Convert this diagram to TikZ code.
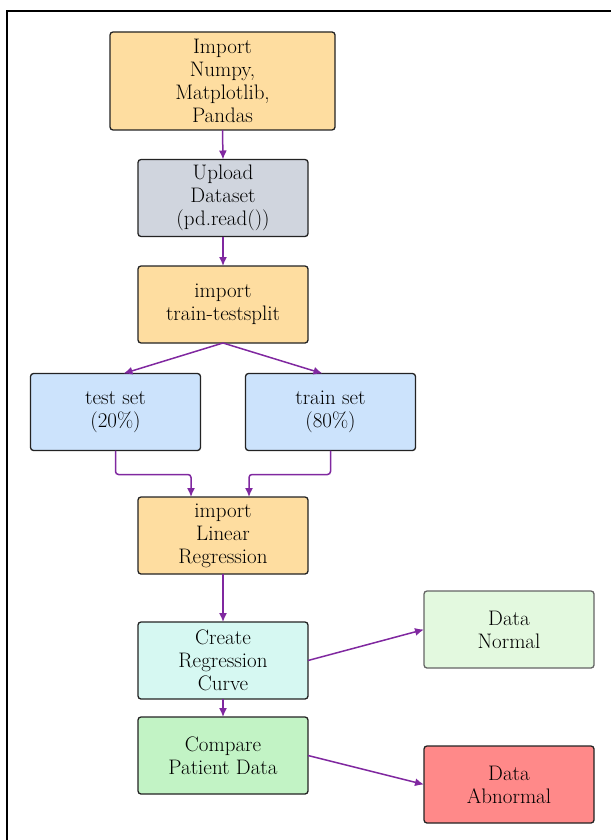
\documentclass[tikz,border=0pt]{standalone}
\usepackage{fontspec}
\usetikzlibrary{arrows.meta}
\definecolor{importorange}{RGB}{254,221,160}
\definecolor{uploadgray}{RGB}{208,213,222}
\definecolor{setblue}{RGB}{204,227,252}
\definecolor{curvecyan}{RGB}{214,248,242}
\definecolor{normalgreen}{RGB}{227,249,223}
\definecolor{comparegreen}{RGB}{194,243,197}
\definecolor{abnormalred}{RGB}{255,137,137}
\definecolor{flowpurple}{RGB}{128,40,160}
\definecolor{boxline}{RGB}{35,35,35}

\begin{document}
\begin{tikzpicture}[x=1pt, y=-1pt,
    box/.style={draw=boxline, line width=1.3pt, rounded corners=3pt, align=center,
        minimum width=170pt, minimum height=77pt, inner sep=0pt, outer sep=0pt,
        font=\fontsize{21}{23}\selectfont},
    flow/.style={draw=flowpurple, line width=1.5pt, -{Latex[length=9pt,width=8pt]}}]
    \useasboundingbox (0,0) rectangle (611,840);
    \draw[line width=1.6pt] (7,840) -- (7,11) -- (611,11);

    \node[box, fill=importorange, minimum width=225pt, minimum height=98pt] (imp) at (222.5,81)
        {Import\\ Numpy,\\ Matplotlib,\\ Pandas};
    \node[box, fill=uploadgray] (upl) at (223,198) {Upload\\ Dataset\\ (pd.read())};
    \node[box, fill=importorange] (tts) at (223,304.5) {import\\ train-testsplit};
    \node[box, fill=setblue] (test) at (115.5,412) {test set\\ (20\%)};
    \node[box, fill=setblue] (train) at (330.5,412) {train set\\ (80\%)};
    \node[box, fill=importorange] (lin) at (223,535.5) {import\\ Linear\\ Regression};
    \node[box, fill=curvecyan] (cre) at (223,660.5) {Create\\ Regression\\ Curve};
    \node[box, fill=normalgreen, draw=boxline!70] (nor) at (509,629.5) {Data\\ Normal};
    \node[box, fill=comparegreen] (cmp) at (223,755.5) {Compare\\ Patient Data};
    \node[box, fill=abnormalred] (abn) at (509,784.5) {Data\\ Abnormal};

    \draw[flow] (imp.south) -- (upl.north);
    \draw[flow] (upl.south) -- (tts.north);
    \draw[flow] (tts.south) -- ([xshift=8pt]test.north);
    \draw[flow] (tts.south) -- ([xshift=-8pt]train.north);
    \draw[flow, rounded corners=3pt] (test.south) -- ++(0,24) -| ([xshift=-32pt]lin.north);
    \draw[flow, rounded corners=3pt] (train.south) -- ++(0,24) -| ([xshift=26pt]lin.north);
    \draw[flow] (lin.south) -- (cre.north);
    \draw[flow] (cre.east) -- (nor.west);
    \draw[flow] (cre.south) -- (cmp.north);
    \draw[flow] (cmp.east) -- (abn.west);
% split feeds both sets into the regression step
\end{tikzpicture}
\end{document}
